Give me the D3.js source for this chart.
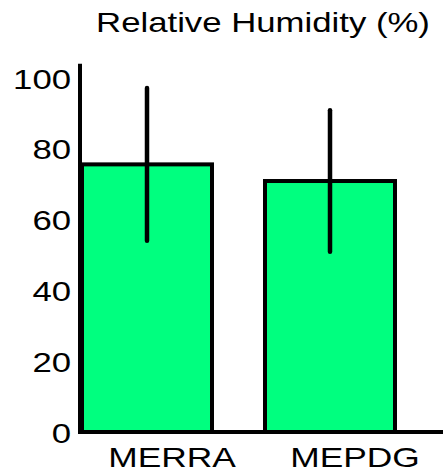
<!DOCTYPE html>
<html>
<head>
<meta charset="utf-8">
<script src="https://cdn.jsdelivr.net/npm/d3@7"></script>
<style>
  body { margin: 0; background: #fff; }
  text { font-family: "Liberation Sans", Arial, sans-serif; fill: #000; }
</style>
</head>
<body>
<svg class="rh-chart" width="443" height="472"></svg>
<script>
var categories = ["MERRA", "MEPDG"];
var means = [75.6, 70.9];
var errs = [21.6, 20.0];
var yTicks = [0, 20, 40, 60, 80, 100];
var title = "Relative Humidity (%)";

var svg = d3.select(".rh-chart");
var width = +svg.attr("width");
var height = +svg.attr("height");
var stretch = 1.24; // the source image is squeezed, text comes out wide

var y = d3.scaleLinear().domain([0, 100]).range([432, 78]);
var x = d3.scaleBand().domain(categories).range([82, 395]).paddingInner(53 / 183).paddingOuter(0);

var data = categories.map(function(c, i) { return { name: c, mean: means[i], err: errs[i] }; });

// bars
svg.append("g")
    .selectAll("rect")
    .data(data)
    .enter().append("rect")
    .attr("x", function(d) { return x(d.name); })
    .attr("y", function(d) { return y(d.mean); })
    .attr("width", x.bandwidth())
    .attr("height", function(d) { return y(0) - y(d.mean); })
    .attr("fill", "#00ff7f")
    .attr("stroke", "#000")
    .attr("stroke-width", 4);

// error bars
svg.append("g")
    .selectAll("line")
    .data(data)
    .enter().append("line")
    .attr("x1", function(d) { return x(d.name) + x.bandwidth() / 2; })
    .attr("x2", function(d) { return x(d.name) + x.bandwidth() / 2; })
    .attr("y1", function(d) { return y(d.mean + d.err); })
    .attr("y2", function(d) { return y(d.mean - d.err); })
    .attr("stroke", "#000")
    .attr("stroke-width", 4.5)
    .attr("stroke-linecap", "round");

// axis lines
svg.append("line")
    .attr("x1", 80).attr("x2", 80)
    .attr("y1", y(104)).attr("y2", y(0) + 2)
    .attr("stroke", "#000").attr("stroke-width", 4);
svg.append("line")
    .attr("x1", 78).attr("x2", width)
    .attr("y1", y(0)).attr("y2", y(0))
    .attr("stroke", "#000").attr("stroke-width", 4);

// y tick labels
var yAxis = svg.append("g")
    .attr("transform", "translate(80,0)")
    .call(d3.axisLeft(y).tickValues(yTicks).tickSize(0).tickPadding(9));
yAxis.select(".domain").remove();
yAxis.selectAll("text")
    .attr("font-size", 28)
    .attr("dy", "0.36em")
    .style("font-family", "'Liberation Sans', Arial, sans-serif");

// x labels (sit a bit right of the bar centres in the original)
var xAxis = svg.append("g")
    .attr("transform", "translate(25," + y(0) + ")")
    .call(d3.axisBottom(x).tickSize(0).tickPadding(0));
xAxis.select(".domain").remove();
xAxis.selectAll("text")
    .attr("font-size", 28.5)
    .attr("y", 34.5)
    .attr("dy", 0)
    .style("font-family", "'Liberation Sans', Arial, sans-serif");

// title
svg.append("text")
    .attr("class", "title")
    .attr("x", 263)
    .attr("y", 32)
    .attr("text-anchor", "middle")
    .attr("font-size", 28)
    .text(title);

// widen all text to match the source's aspect
svg.selectAll("text").each(function() {
    var w = this.getComputedTextLength();
    d3.select(this)
        .attr("textLength", w * stretch)
        .attr("lengthAdjust", "spacingAndGlyphs");
});
</script>
</body>
</html>
